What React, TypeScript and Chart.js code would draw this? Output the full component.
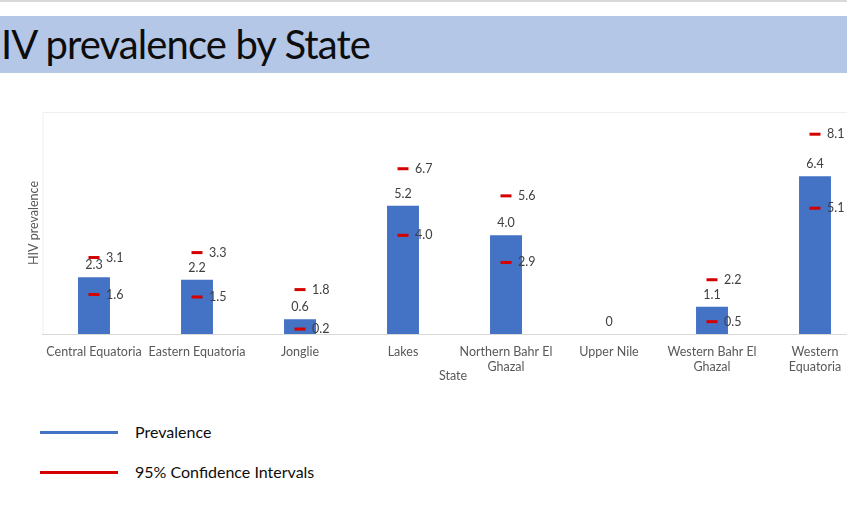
import React, { useEffect, useRef } from "react";
import { Chart, registerables } from "chart.js";

Chart.register(...registerables);

const categories: (string | string[])[] = [
  "Central Equatoria",
  "Eastern Equatoria",
  "Jonglie",
  "Lakes",
  ["Northern Bahr El", "Ghazal"],
  "Upper Nile",
  ["Western Bahr El", "Ghazal"],
  ["Western", "Equatoria"],
];
const prevalence: number[] = [2.3, 2.2, 0.6, 5.2, 4.0, 0, 1.1, 6.4];
const upperCI: (number | null)[] = [3.1, 3.3, 1.8, 6.7, 5.6, null, 2.2, 8.1];
const lowerCI: (number | null)[] = [1.6, 1.5, 0.2, 4.0, 2.9, null, 0.5, 5.1];

const FONT = "Lato, 'Open Sans', sans-serif";
const BLUE = "#4472c4";
const RED = "#d40000";

const labelPlugin = {
  id: "customLabels",
  beforeDraw(chart: any) {
    const { ctx, chartArea } = chart;
    ctx.save();
    ctx.strokeStyle = "#efefef";
    ctx.lineWidth = 1;
    ctx.beginPath();
    ctx.moveTo(chartArea.left + 0.5, chartArea.bottom);
    ctx.lineTo(chartArea.left + 0.5, chartArea.top + 0.5);
    ctx.lineTo(chartArea.right, chartArea.top + 0.5);
    ctx.stroke();
    ctx.restore();
  },
  afterDatasetsDraw(chart: any) {
    const { ctx, chartArea } = chart;
    ctx.save();
    ctx.font = `12.5px ${FONT}`;
    ctx.fillStyle = "#404040";
    ctx.textBaseline = "middle";
    const barMeta = chart.getDatasetMeta(0);
    barMeta.data.forEach((bar: any, i: number) => {
      const v = prevalence[i];
      ctx.textAlign = "center";
      ctx.fillText(v === 0 ? "0" : v.toFixed(1), bar.x, bar.y - 12);
    });
    [1, 2].forEach((di) => {
      const meta = chart.getDatasetMeta(di);
      const vals = di === 1 ? upperCI : lowerCI;
      meta.data.forEach((pt: any, i: number) => {
        const v = vals[i];
        if (v === null || v === undefined) return;
        ctx.textAlign = "left";
        ctx.fillText(v.toFixed(1), pt.x + 12, pt.y);
      });
    });
    // axis titles
    ctx.fillStyle = "#595959";
    ctx.font = `12.5px ${FONT}`;
    ctx.textAlign = "center";
    ctx.fillText("State", 453, 296);
    ctx.save();
    ctx.translate(34, (chartArea.top + chartArea.bottom) / 2);
    ctx.rotate(-Math.PI / 2);
    ctx.fillText("HIV prevalence", 0, 0);
    ctx.restore();
    ctx.restore();
  },
};

function ChartBox() {
  const ref = useRef<HTMLCanvasElement | null>(null);
  useEffect(() => {
    if (!ref.current) return;
    const chart = new Chart(ref.current, {
      type: "bar",
      data: {
        labels: categories,
        datasets: [
          {
            type: "bar",
            label: "Prevalence",
            data: prevalence,
            backgroundColor: BLUE,
            barPercentage: 0.31,
            categoryPercentage: 1,
            order: 2,
          },
          {
            type: "line",
            label: "Upper CI",
            data: upperCI,
            showLine: false,
            pointStyle: "line",
            pointRadius: 5.5,
            pointBorderWidth: 3,
            borderColor: RED,
            backgroundColor: RED,
            order: 1,
          },
          {
            type: "line",
            label: "Lower CI",
            data: lowerCI,
            showLine: false,
            pointStyle: "line",
            pointRadius: 5.5,
            pointBorderWidth: 3,
            borderColor: RED,
            backgroundColor: RED,
            order: 1,
          },
        ] as any,
      },
      options: {
        animation: false,
        responsive: true,
        maintainAspectRatio: false,
        layout: { padding: { left: 42.5, right: 13.5, top: 32, bottom: 10 } },
        plugins: {
          legend: { display: false },
          tooltip: { enabled: false },
          title: { display: false },
        },
        scales: {
          x: {
            offset: true,
            grid: { display: false, drawTicks: false },
            border: { display: true, color: "#d9d9d9", width: 1 },
            ticks: {
              color: "#595959",
              font: { family: FONT, size: 12.5 },
              padding: 10,
              maxRotation: 0,
              autoSkip: false,
            },
            afterFit: (scale: any) => {
              scale.height = 56;
            },
          },
          y: {
            display: false,
            min: 0,
            max: 9,
          },
        },
      },
      plugins: [labelPlugin],
    });
    return () => chart.destroy();
  }, []);
  return <canvas ref={ref} />;
}

export default function App() {
  return (
    <div
      style={{
        position: "absolute",
        left: 0,
        top: 0,
        width: 847,
        height: 528,
        overflow: "hidden",
        background: "#ffffff",
        fontFamily: FONT,
      }}
    >
      <div style={{ position: "absolute", left: 0, top: 0, width: 847, height: 2, background: "#d9d9d9" }} />
      <div
        style={{
          position: "absolute",
          left: 0,
          top: 16,
          width: 847,
          height: 57,
          background: "#b4c7e7",
        }}
      >
        <div
          style={{
            position: "absolute",
            left: 1,
            top: 0,
            height: 57,
            lineHeight: "57px",
            fontSize: 40,
            letterSpacing: "-0.9px",
            color: "#0d0d0d",
            whiteSpace: "nowrap",
          }}
        >
          IV prevalence by State
        </div>
      </div>
      <div style={{ position: "absolute", left: 0, top: 80, width: 880, height: 320 }}>
        <ChartBox />
      </div>
      <div style={{ position: "absolute", left: 40, top: 431, width: 78, height: 3, background: BLUE }} />
      <div
        style={{
          position: "absolute",
          left: 135,
          top: 421,
          lineHeight: "22px",
          fontSize: 16,
          color: "#0d0d0d",
          whiteSpace: "nowrap",
        }}
      >
        Prevalence
      </div>
      <div style={{ position: "absolute", left: 40, top: 471, width: 78, height: 3, background: RED }} />
      <div
        style={{
          position: "absolute",
          left: 135,
          top: 461,
          lineHeight: "22px",
          fontSize: 16,
          color: "#0d0d0d",
          whiteSpace: "nowrap",
        }}
      >
        95% Confidence Intervals
      </div>
    </div>
  );
}
